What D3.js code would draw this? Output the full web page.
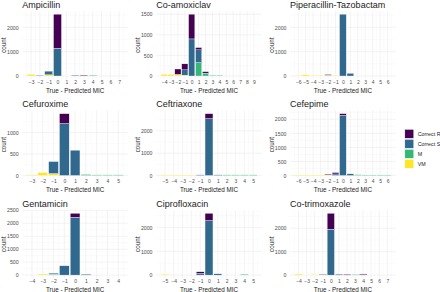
<!DOCTYPE html>
<html><head><meta charset="utf-8">
<script src="https://cdn.jsdelivr.net/npm/d3@7"></script>
<style>
html,body{margin:0;padding:0;background:#fff;}
svg{display:block;font-family:"Liberation Sans",Arial,sans-serif;}
</style></head>
<body><svg id="c" width="440" height="292"></svg>
<script>
// ---- data: rows are [x, Correct R, Correct S, M, VM] ----
const categories = ["Correct R", "Correct S", "M", "VM"];
const colors = ["#440154", "#31688E", "#35B779", "#FDE725"];
const drugs = ["Ampicillin", "Co-amoxiclav", "Piperacillin-Tazobactam",
               "Cefuroxime", "Ceftriaxone", "Cefepime",
               "Gentamicin", "Ciprofloxacin", "Co-trimoxazole"];

const ampicillin = [[-3,0,0,0,70],[-2,0,30,0,0],[-1,0,150,0,50],[0,1400,1140,0,0],[2,0,35,0,0],[3,35,0,0,0],[4,0,0,35,0]];
const coAmoxiclav = [[-4,0,0,0,40],[-3,0,0,0,40],[-2,130,0,0,40],[-1,145,130,0,20],[0,600,900,0,0],[1,55,310,325,0],[2,35,0,70,0],[3,0,0,20,0],[4,0,0,20,0]];
const piperacillinTazobactam = [[-6,0,0,0,20],[-5,0,0,0,50],[-4,0,0,0,30],[-3,0,0,0,30],[-2,30,0,0,30],[-1,0,0,0,25],[0,0,2540,0,0],[1,0,110,0,0]];
const cefuroxime = [[-3,0,0,0,15],[-2,0,0,0,70],[-1,0,280,0,45],[0,230,1210,0,0],[1,0,590,0,0],[2,0,0,25,0],[3,0,0,15,0],[4,0,0,15,0],[5,0,0,15,0]];
const ceftriaxone = [[-5,0,0,0,25],[-4,0,0,0,25],[-3,0,0,0,25],[-2,0,0,0,25],[-1,0,30,0,0],[0,220,2550,0,0],[1,0,30,0,0],[2,0,0,30,0],[3,0,0,30,0],[4,0,0,30,0],[5,0,0,30,0]];
const cefepime = [[-6,0,0,0,20],[-5,0,0,0,20],[-4,0,0,0,20],[-3,0,0,0,20],[-2,25,0,0,25],[-1,50,55,0,0],[0,60,2140,0,0],[1,0,60,0,0],[2,0,0,30,0],[3,0,0,20,0],[4,0,0,20,0],[5,0,0,20,0],[6,0,0,20,0]];
const gentamicin = [[-3,0,0,0,40],[-2,0,40,35,0],[-1,0,360,0,0],[0,155,2230,0,0],[1,0,35,0,0]];
const ciprofloxacin = [[-5,0,0,0,35],[-1,70,70,0,0],[0,305,2295,0,0],[1,0,55,0,0],[4,0,0,35,0]];
const coTrimoxazole = [[-4,0,0,0,45],[-2,0,0,0,25],[-1,0,25,0,20],[0,680,1960,0,0],[1,0,40,0,0],[2,30,0,0,0],[3,0,0,25,0],[4,30,20,0,0]];
const drugData = [ampicillin, coAmoxiclav, piperacillinTazobactam, cefuroxime, ceftriaxone, cefepime, gentamicin, ciprofloxacin, coTrimoxazole];

// x tick ranges (True - Predicted MIC) per panel
const xTickRanges = [[-3,7],[-4,9],[-6,6],[-3,5],[-5,5],[-6,6],[-4,4],[-5,5],[-4,7]];
// y tick labels per panel
const yTicks = [[0,1000,2000],[0,500,1000,1500],[0,1000,2000],
                [0,500,1000],[0,1000,2000],[0,500,1000,1500,2000],
                [0,500,1000,1500,2000,2500],[0,1000,2000],[0,1000,2000]];

// ---- layout ----
const colLeft = [22.3, 156.2, 290.1];
const rowTop = [11.1, 110.6, 210.2];
const panelW = 105.6, panelH = 68;
const FONT = '"Liberation Sans",Arial,sans-serif';

const svg = d3.select("#c");
const keys = ["VM", "M", "S", "R"]; // stack order bottom -> top
const colorOf = {R: colors[0], S: colors[1], M: colors[2], VM: colors[3]};

drugs.forEach((name, i) => {
  const col = i % 3, row = Math.floor(i / 3);
  const L = colLeft[col], T = rowTop[row];
  const rows = drugData[i].map(r => ({x: r[0], R: r[1], S: r[2], M: r[3], VM: r[4]}));
  const [lo, hi] = xTickRanges[i];
  const span = (hi - lo) + 0.9;
  const x = d3.scaleLinear()
    .domain([lo - 0.45 - 0.05 * span, hi + 0.45 + 0.05 * span])
    .range([L, L + panelW]);
  const maxTot = d3.max(rows, d => d.R + d.S + d.M + d.VM);
  const y = d3.scaleLinear().domain([-0.05 * maxTot, 1.05 * maxTot]).range([T + panelH, T]);

  const g = svg.append("g");
  // grid
  const xMaj = d3.range(lo, hi + 1);
  const xMin = d3.range(lo - 0.5, hi + 1, 1).filter(v => v > x.domain()[0] && v < x.domain()[1]);
  const yt = yTicks[i];
  const step = yt[1] - yt[0];
  const yMin = d3.range(yt[0] - step / 2, y.domain()[1], step).filter(v => v > y.domain()[0] && v < y.domain()[1]);
  g.selectAll(".gxm").data(xMin).join("line")
    .attr("x1", d => x(d)).attr("x2", d => x(d)).attr("y1", T).attr("y2", T + panelH)
    .attr("stroke", "#F3F3F3").attr("stroke-width", 0.35);
  g.selectAll(".gym").data(yMin).join("line")
    .attr("y1", d => y(d)).attr("y2", d => y(d)).attr("x1", L).attr("x2", L + panelW)
    .attr("stroke", "#F3F3F3").attr("stroke-width", 0.35);
  g.selectAll(".gx").data(xMaj).join("line")
    .attr("x1", d => x(d)).attr("x2", d => x(d)).attr("y1", T).attr("y2", T + panelH)
    .attr("stroke", "#EBEBEB").attr("stroke-width", 0.6);
  g.selectAll(".gy").data(yt).join("line")
    .attr("y1", d => y(d)).attr("y2", d => y(d)).attr("x1", L).attr("x2", L + panelW)
    .attr("stroke", "#EBEBEB").attr("stroke-width", 0.6);

  // bars
  const stacked = d3.stack().keys(keys)(rows);
  stacked.forEach(layer => {
    g.append("g").selectAll("rect").data(layer.filter(d => d[1] > d[0])).join("rect")
      .attr("x", d => x(d.data.x - 0.45))
      .attr("width", d => x(d.data.x + 0.45) - x(d.data.x - 0.45))
      .attr("y", d => y(d[1]))
      .attr("height", d => y(d[0]) - y(d[1]))
      .attr("fill", colorOf[layer.key])
      .attr("stroke", "#ffffff").attr("stroke-width", 0.35);
  });

  // axes
  const xa = g.append("g").attr("transform", `translate(0,${T + panelH})`)
    .call(d3.axisBottom(x).tickValues(xMaj).tickSize(0).tickPadding(1.2).tickFormat(d3.format("d")));
  xa.select(".domain").remove();
  xa.selectAll("text").attr("font-size", 5).attr("fill", "#4D4D4D").attr("font-family", FONT)
    .attr("dy", "0.71em");
  const ya = g.append("g").attr("transform", `translate(${L},0)`)
    .call(d3.axisLeft(y).tickValues(yt).tickSize(0).tickPadding(3.7).tickFormat(d3.format("d")));
  ya.select(".domain").remove();
  ya.selectAll("text").attr("font-size", 5.2).attr("fill", "#4D4D4D").attr("font-family", FONT);

  // titles
  g.append("text").attr("x", L).attr("y", T - 3.6).text(name)
    .attr("font-size", 9).attr("fill", "#1A1A1A").attr("font-family", FONT);
  g.append("text").attr("x", L + panelW / 2).attr("y", T + panelH + 13.8)
    .attr("text-anchor", "middle").text("True - Predicted MIC")
    .attr("font-size", 6.3).attr("fill", "#1A1A1A").attr("font-family", FONT);
  g.append("text")
    .attr("transform", `translate(${L - 16.5},${T + panelH / 2}) rotate(-90)`)
    .attr("text-anchor", "middle").text("count")
    .attr("font-size", 6.3).attr("fill", "#1A1A1A").attr("font-family", FONT);
});

// legend
const lg = svg.append("g");
categories.forEach((c, k) => {
  lg.append("rect").attr("x", 404.8).attr("y", 129.3 + k * 10).attr("width", 9).attr("height", 9)
    .attr("fill", colors[k]).attr("stroke", "#fff").attr("stroke-width", 0.5);
  lg.append("text").attr("x", 417.8).attr("y", 129.3 + k * 10 + 4.5).attr("dy", "0.35em")
    .text(c).attr("font-size", 5.3).attr("fill", "#1A1A1A").attr("font-family", FONT);
});
</script></body></html>
